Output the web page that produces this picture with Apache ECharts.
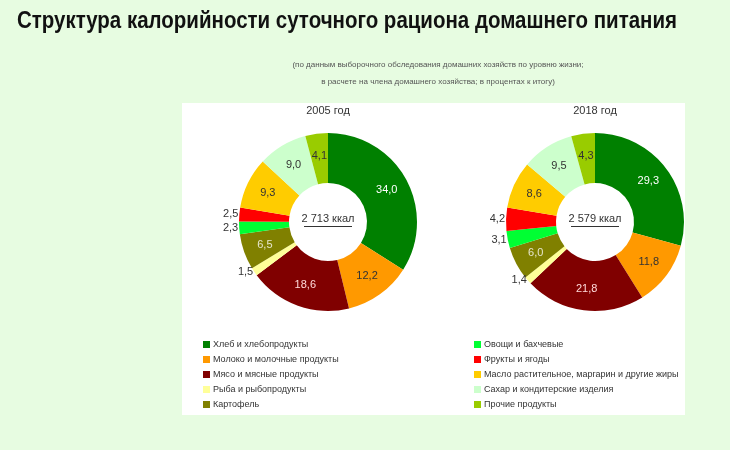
<!DOCTYPE html>
<html><head><meta charset="utf-8">
<script src="https://cdn.jsdelivr.net/npm/echarts@6/dist/echarts.min.js"></script>
<style>html,body{margin:0;padding:0;background:#e7fce1}#c{width:730px;height:450px}</style>
</head><body><div id="c"></div>
<script>
const categories = ['Хлеб и хлебопродукты','Молоко и молочные продукты','Мясо и мясные продукты','Рыба и рыбопродукты','Картофель','Овощи и бахчевые','Фрукты и ягоды','Масло растительное, маргарин и другие жиры','Сахар и кондитерские изделия','Прочие продукты'];
const colors = ['#008000','#ff9900','#800000','#ffff99','#808000','#00ff33','#ff0000','#ffcc00','#ccffcc','#99cc00'];
const labelColors = ['#ffffff','#333333','#ffd9d9','#333333','#e6e6cc','#333333','#333333','#333333','#333333','#333333'];
const outsideIdx2005 = [3,5,6];
const outsideIdx2018 = [3,5,6];
const values2005 = [34.0,12.2,18.6,1.5,6.5,2.3,2.5,9.3,9.0,4.1];
const values2018 = [29.3,11.8,21.8,1.4,6.0,3.1,4.2,8.6,9.5,4.3];
const yearTitles = ['2005 год','2018 год'];
const totals = ['2 713 ккал','2 579 ккал'];
const mainTitle = 'Структура калорийности суточного рациона домашнего питания';
const subLines = ['(по данным выборочного обследования домашних хозяйств по уровню жизни;','в расчете на члена домашнего хозяйства; в процентах к итогу)'];

const fmt = v => v.toFixed(1).replace('.', ',');
function buildData(vals, outside){
  return vals.map((v,i)=>{
    const o = outside.indexOf(i) >= 0;
    return {
      name: categories[i], value: v,
      itemStyle:{color: colors[i]},
      label:{position: o ? 'outside' : 'inside', color: o ? '#333' : labelColors[i]},
      labelLine:{show:false, length:0, length2:0}
    };
  });
}
const centers = [[328,222],[595,222]];
const font = 'Arial, "Liberation Sans", sans-serif';
function pie(vals, outside, c){
  return {
    type:'pie', center:c, radius:[39,89], startAngle:90, clockwise:true,
    avoidLabelOverlap:false, animation:false, silent:true,
    label:{show:true, formatter:p=>fmt(p.value), fontSize:11, fontFamily:font, distanceToLabelLine:1},
    labelLine:{show:false},
    data: buildData(vals, outside)
  };
}
// measure title width to fit reference span
const titleFont = 'bold 23px "Liberation Sans", Arial, sans-serif';
const cv = document.createElement('canvas').getContext('2d');
cv.font = titleFont;
const tw = cv.measureText(mainTitle).width;
const titleScale = 660 / tw;

const chart = echarts.init(document.getElementById('c'), null, {renderer:'canvas'});
const graphics = [
  {type:'rect', shape:{x:182,y:103,width:503,height:312}, style:{fill:'#ffffff'}, z:-10},
  {type:'text', x:17, y:22, scaleX:titleScale, style:{text:mainTitle, fill:'#111', font:titleFont, textAlign:'left', textVerticalAlign:'middle'}, z:10}
];
centers.forEach((c,i)=>{
  graphics.push({type:'text', x:c[0], y:c[1]-3, style:{text:totals[i], fill:'#333', font:'11px '+font, textAlign:'center', textVerticalAlign:'middle'}, z:10});
  graphics.push({type:'rect', shape:{x:c[0]-24, y:c[1]+4, width:48, height:1}, style:{fill:'#333'}, z:10});
  graphics.push({type:'text', x:c[0], y:111, style:{text:yearTitles[i], fill:'#333', font:'11px '+font, textAlign:'center', textVerticalAlign:'middle'}, z:10});
});
chart.setOption({
  backgroundColor:'#e7fce1',
  title:[
    {text:subLines[0], left:433, textAlign:'center', top:56, textStyle:{fontSize:8, fontWeight:'normal', color:'#555', fontFamily:font}},
    {text:subLines[1], left:433, textAlign:'center', top:73, textStyle:{fontSize:8, fontWeight:'normal', color:'#555', fontFamily:font}}
  ],
  legend:[
    {data:categories.slice(0,5), orient:'vertical', left:198, top:334, icon:'rect', itemWidth:7, itemHeight:7, itemGap:4, selectedMode:false, textStyle:{fontSize:9, lineHeight:11, color:'#333', fontFamily:font, padding:[0,0,0,-2]}},
    {data:categories.slice(5), orient:'vertical', left:469, top:334, icon:'rect', itemWidth:7, itemHeight:7, itemGap:4, selectedMode:false, textStyle:{fontSize:9, lineHeight:11, color:'#333', fontFamily:font, padding:[0,0,0,-2]}}
  ],
  graphic: graphics,
  series:[ pie(values2005, outsideIdx2005, centers[0]), pie(values2018, outsideIdx2018, centers[1]) ]
});
</script></body></html>
